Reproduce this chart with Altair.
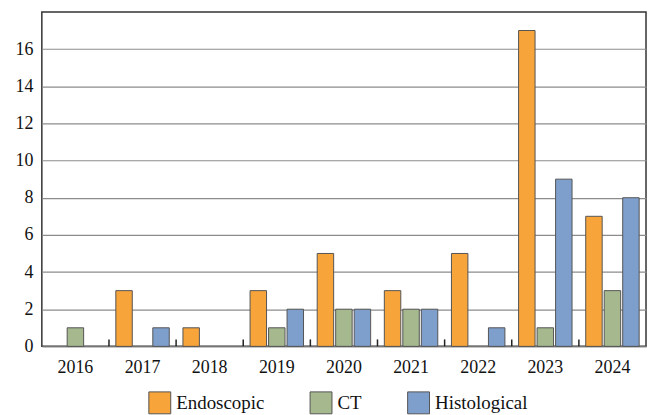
import altair as alt
import pandas as pd

years = ["2016", "2017", "2018", "2019", "2020", "2021", "2022", "2023", "2024"]
series = ["Endoscopic", "CT", "Histological"]
endoscopic = [0, 3, 1, 3, 5, 3, 5, 17, 7]
ct = [1, 0, 0, 1, 2, 2, 0, 1, 3]
histological = [0, 1, 0, 2, 2, 2, 1, 9, 8]
colors = ["#F7A43B", "#A5B88E", "#7E9ECB"]

rows = []
for i, y in enumerate(years):
    for s, vals in zip(series, [endoscopic, ct, histological]):
        rows.append({"year": y, "series": s, "value": vals[i]})
df = pd.DataFrame(rows)
tick_df = pd.DataFrame({"year": years[1:]})

W, H = 607, 336
FONT = "Liberation Serif"

xscale = alt.Scale(domain=years, paddingInner=0, paddingOuter=0)

bars = alt.Chart(df).transform_filter("datum.value > 0").mark_bar(
    stroke="#555555", strokeWidth=1).encode(
    x=alt.X("year:N", scale=xscale, sort=years,
            axis=alt.Axis(title=None, labelAngle=0, ticks=False, domain=False,
                          labelPadding=12, labelFontSize=18, labelFont=FONT,
                          labelColor="#111111")),
    xOffset=alt.XOffset("series:N", sort=series,
                        scale=alt.Scale(domain=series, paddingInner=0.11, paddingOuter=0.37)),
    y=alt.Y("value:Q", scale=alt.Scale(domain=[0, 18], nice=False),
            axis=alt.Axis(title=None, values=list(range(0, 17, 2)), ticks=False, domain=False,
                          labelPadding=9, labelFontSize=18, labelFont=FONT, labelColor="#111111",
                          grid=True, gridColor="#8c8c8c", gridWidth=1.2)),
    color=alt.Color("series:N", sort=series,
                    scale=alt.Scale(domain=series, range=colors),
                    legend=alt.Legend(title=None, orient="none", direction="horizontal",
                                      legendX=107, legendY=381, padding=0,
                                      symbolType="square", symbolSize=484,
                                      symbolStrokeColor="#555555", symbolStrokeWidth=1,
                                      symbolOpacity=1,
                                      labelFontSize=19, labelFont=FONT, labelColor="#111111",
                                      columnPadding=43, labelOffset=5)),
)

ticks = alt.Chart(tick_df).mark_rule(color="#222222", strokeWidth=1.5).encode(
    x=alt.X("year:N", scale=xscale, sort=years, bandPosition=0),
    y=alt.value(H),
    y2=alt.value(H - 7),
)

chart = alt.layer(bars, ticks).properties(
    width=W, height=H,
    autosize=alt.AutoSizeParams(type="none"),
    padding={"left": 34, "top": 3, "right": 2, "bottom": 68},
).configure_view(
    stroke="#333333", strokeWidth=1.5
)

chart.save("out.html", embed_options={"renderer": "svg", "actions": False})
